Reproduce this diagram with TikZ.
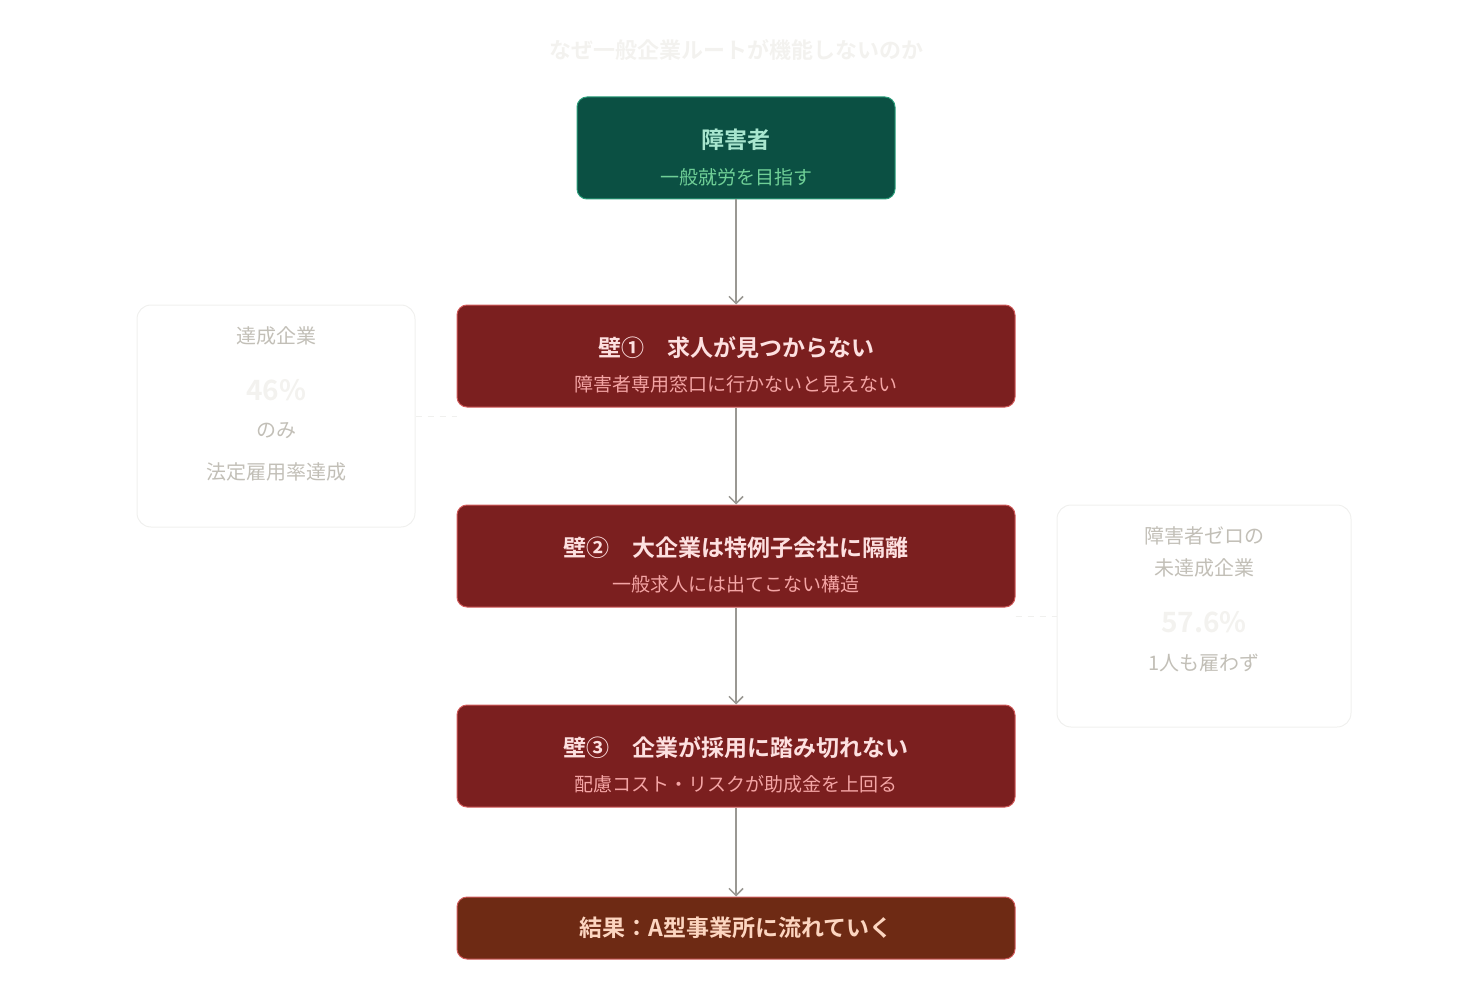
\documentclass[tikz,border=0pt]{standalone}
\usepackage{fontspec}
\setmainfont{Noto Sans CJK JP}
\newfontfamily\bfj{Noto Sans CJK JP Bold}
\usetikzlibrary{arrows.meta}
\definecolor{gfill}{HTML}{0B5043}\definecolor{gline}{HTML}{2A9D7A}
\definecolor{gt}{HTML}{A8E6CF}\definecolor{gs}{HTML}{6FCF97}
\definecolor{rfill}{HTML}{7B1F1F}\definecolor{rline}{HTML}{D05A5A}
\definecolor{rt}{HTML}{FDE0E0}\definecolor{rs}{HTML}{F4A5A5}
\definecolor{ofill}{HTML}{6E2A14}\definecolor{ot}{HTML}{FCD5C0}
\definecolor{arr}{HTML}{9A9893}\definecolor{side}{HTML}{C2BFB7}
\definecolor{faint}{HTML}{F3F2EF}\definecolor{sline}{HTML}{F0F0EE}
\begin{document}
\begin{tikzpicture}[x=1pt,y=-1pt,
 box/.style={rounded corners=10pt,line width=1pt,align=center,inner sep=0pt},
 ar/.style={draw=arr,line width=2pt,-{Straight Barb[length=7pt,width=14pt,line width=1.5pt]}},
 sidebox/.style={draw=sline,rounded corners=14pt,line width=1pt},
 dashline/.style={draw=sline,line width=1pt,dash pattern=on 6pt off 6pt}]
\useasboundingbox (0,0) rectangle (1472,1000);
\node[text=faint,font=\bfj\fontsize{22}{26}\selectfont] (title) at (736,50) {なぜ一般企業ルートが機能しないのか};
\node[box,draw=gline,fill=gfill,minimum width=318pt,minimum height=102pt] (p) at (736,148) {};
\node[text=gt,font=\bfj\fontsize{23}{26}\selectfont] (pt) at (736,140) {障害者};
\node[text=gs,font=\fontsize{19}{22}\selectfont] (ps) at (736,177) {一般就労を目指す};
\foreach \n/\y/\t/\s in {w1/356/壁①\quad 求人が見つからない/障害者専用窓口に行かないと見えない,
 w2/556/壁②\quad 大企業は特例子会社に隔離/一般求人には出てこない構造,
 w3/756/壁③\quad 企業が採用に踏み切れない/配慮コスト・リスクが助成金を上回る}{
 \node[box,draw=rline,fill=rfill,minimum width=558pt,minimum height=102pt] (\n) at (736,\y) {};
 \node[text=rt,font=\bfj\fontsize{23}{26}\selectfont] at (736,\y-8) {\t};
 \node[text=rs,font=\fontsize{19}{22}\selectfont] at (736,\y+28) {\s};
}
\node[box,draw=rline,fill=ofill,minimum width=558pt,minimum height=62pt,text=ot,font=\bfj\fontsize{23}{26}\selectfont] (res) at (736,928) {結果：A型事業所に流れていく};
\draw[ar] (p.south) -- (w1.north);
\draw[ar] (w1.south) -- (w2.north);
\draw[ar] (w2.south) -- (w3.north);
\draw[ar] (w3.south) -- (res.north);
% side boxes
\node[sidebox,minimum width=278pt,minimum height=222pt] (L) at (276,416) {};
\node[text=side,font=\fontsize{20}{24}\selectfont] at (276,336) {達成企業};
\node[text=faint,font=\bfj\fontsize{28}{30}\selectfont] at (276,390) {46\%};
\node[text=side,font=\fontsize{20}{24}\selectfont] at (276,431) {のみ};
\node[text=side,font=\fontsize{20}{24}\selectfont] at (276,472) {法定雇用率達成};
\draw[dashline] (L.east) -- (w1.west|-L.east);
\node[sidebox,minimum width=294pt,minimum height=222pt] (R) at (1204,616) {};
\node[text=side,font=\fontsize{20}{24}\selectfont] at (1204,536) {障害者ゼロの};
\node[text=side,font=\fontsize{20}{24}\selectfont] at (1204,568) {未達成企業};
\node[text=faint,font=\bfj\fontsize{28}{30}\selectfont] at (1204,622) {57.6\%};
\node[text=side,font=\fontsize{20}{24}\selectfont] at (1204,663) {1人も雇わず};
\draw[dashline] (w2.east|-R.west) -- (R.west);
\end{tikzpicture}
\end{document}
